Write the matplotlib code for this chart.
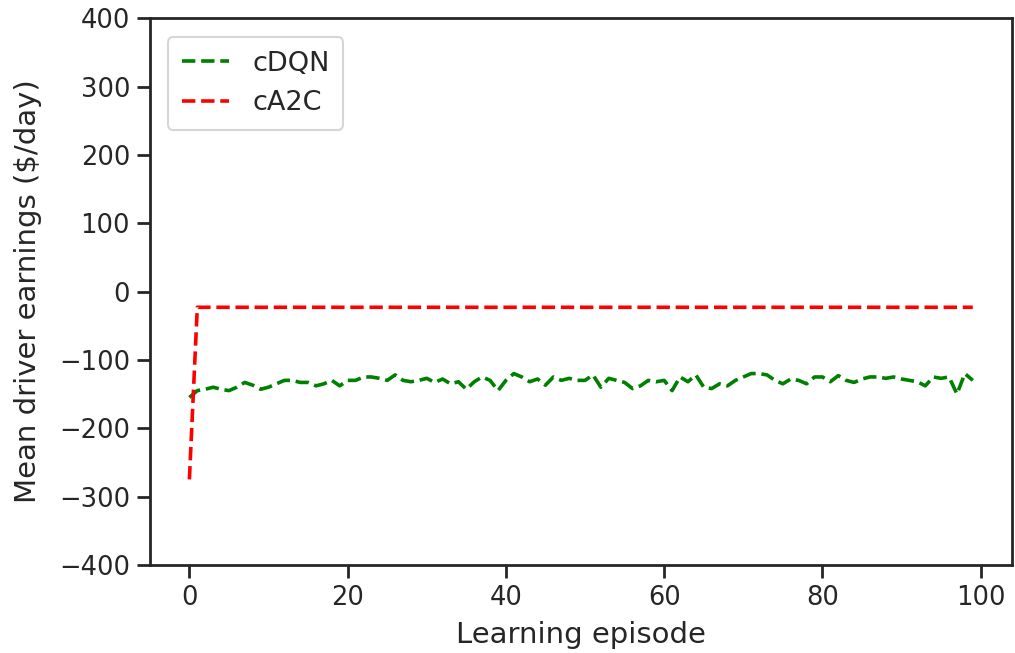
import matplotlib
matplotlib.use("Agg")
import matplotlib.pyplot as plt
import seaborn as sns
import numpy as np

episodes = list(range(100))
cdqn = [-155, -145, -143, -140, -143, -145, -140, -133, -137, -143,
        -140, -135, -130, -130, -133, -133, -138, -135, -130, -138,
        -130, -130, -125, -125, -127, -130, -122, -130, -132, -130,
        -127, -133, -128, -135, -132, -143, -132, -125, -130, -145,
        -130, -120, -125, -132, -128, -137, -125, -130, -127, -130,
        -130, -122, -140, -127, -130, -133, -142, -138, -130, -132,
        -130, -145, -125, -132, -122, -140, -142, -135, -138, -130,
        -125, -120, -120, -122, -130, -135, -128, -130, -135, -125,
        -125, -132, -123, -130, -133, -128, -125, -125, -127, -125,
        -128, -130, -132, -138, -125, -127, -125, -150, -120, -130]
ca2c = [-275] + [-23] * 99

sns.set_style("ticks")
plt.rcParams['font.family'] = ['DejaVu Sans']

fig = plt.figure(figsize=(10.15, 6.53), dpi=100)
ax = fig.add_axes([0.148, 0.135, 0.849, 0.837])
ax.plot(episodes, cdqn, '--', color='green', lw=2.6, label='cDQN')
ax.plot(episodes, ca2c, '--', color='red', lw=2.6, label='cA2C')
ax.set_ylim(-400, 400)
ax.set_yticks(range(-400, 401, 100))
ax.set_xticks(range(0, 101, 20))
ax.set_xlabel('Learning episode', fontsize=21, color='#262626', labelpad=7)
ax.set_ylabel('Mean driver earnings ($/day)', fontsize=21, color='#262626', labelpad=12)
ax.tick_params(labelsize=18.5, colors='#262626', width=2.0, length=9.5, pad=5)
for s in ax.spines.values():
    s.set_linewidth(2.0)
    s.set_color('#262626')
leg = ax.legend(loc='upper left', fontsize=19.5, handlelength=1.75, handletextpad=0.85,
                borderpad=0.5, bbox_to_anchor=(0.005, 0.99))
leg.get_frame().set_linewidth(1.5)
fig.savefig('out.png', dpi=100)
